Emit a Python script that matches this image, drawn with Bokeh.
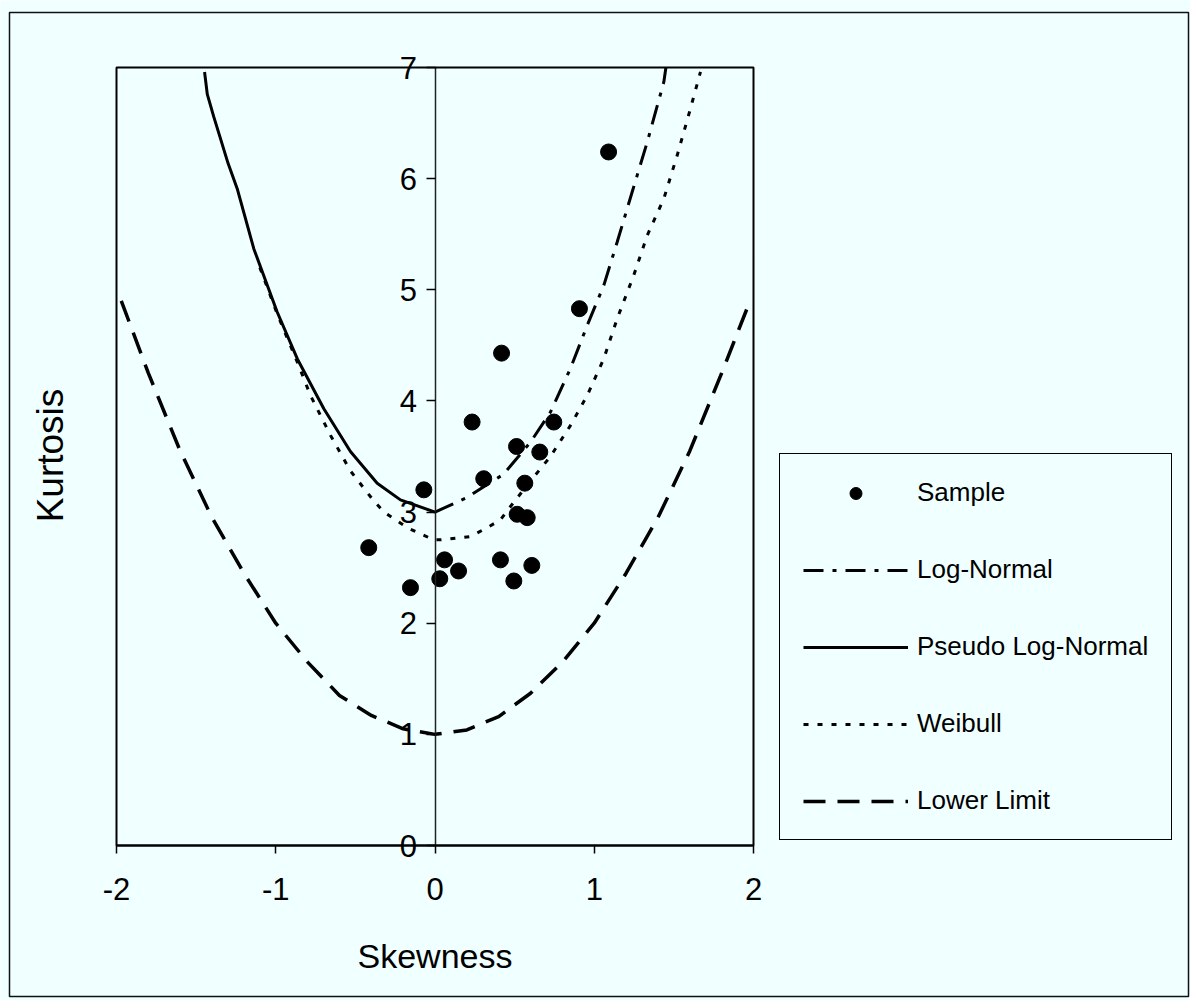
import math
from bokeh.plotting import figure
from bokeh.models import LinearAxis, FixedTicker, Legend, LegendItem, Range1d, BoxAnnotation, Label
from bokeh.embed import file_html
from bokeh.resources import INLINE

BG = "#F0FFFF"
FONT = "Liberation Sans"

# ---- data ----
sample_skew = [1.09, 0.907, 0.418, 0.233, 0.746, 0.512, 0.658, 0.306, 0.564, -0.07,
               0.516, 0.579, -0.416, 0.06, 0.148, 0.03, -0.154, 0.411, 0.608, 0.495]
sample_kurt = [6.24, 4.83, 4.43, 3.81, 3.81, 3.59, 3.54, 3.30, 3.26, 3.20,
               2.98, 2.95, 2.68, 2.57, 2.47, 2.40, 2.32, 2.57, 2.52, 2.38]

lognormal_skew = [0.0, 0.2, 0.43, 0.6, 0.725, 0.85, 0.956, 1.06, 1.144, 1.238, 1.333, 1.437, 1.45]
lognormal_kurt = [3.0, 3.13, 3.34, 3.63, 3.90, 4.29, 4.68, 5.04, 5.43, 5.88, 6.33, 6.87, 7.0]

pseudo_skew = [-1.447, -1.43, -1.39, -1.347, -1.30, -1.242, -1.19, -1.138, -0.991, -0.865,
               -0.698, -0.531, -0.363, -0.217, 0.0]
pseudo_kurt = [6.96, 6.76, 6.56, 6.36, 6.14, 5.91, 5.64, 5.37, 4.80, 4.38,
               3.93, 3.545, 3.26, 3.11, 3.0]

weibull_skew = [-1.1, -0.99, -0.865, -0.782, -0.656, -0.531, -0.384, -0.32, -0.175, -0.008,
                0.035, 0.223, 0.328, 0.411, 0.474, 0.6, 0.725, 0.851, 0.956, 1.06,
                1.144, 1.248, 1.333, 1.437, 1.521, 1.604, 1.667]
weibull_kurt = [5.2, 4.78, 4.35, 4.05, 3.69, 3.37, 3.10, 3.0, 2.86, 2.75,
                2.75, 2.78, 2.86, 2.93, 3.05, 3.28, 3.50, 3.78, 4.05, 4.38,
                4.74, 5.13, 5.49, 5.82, 6.21, 6.63, 6.96]

lower_skew = [-1.97, -1.8, -1.6, -1.4, -1.2, -1.0, -0.8, -0.6, -0.4, -0.2, 0.0,
              0.2, 0.4, 0.6, 0.8, 1.0, 1.2, 1.4, 1.6, 1.8, 1.97]
lower_kurt = [4.9, 4.25, 3.55, 2.95, 2.45, 2.0, 1.65, 1.35, 1.17, 1.05, 1.0,
              1.04, 1.16, 1.37, 1.65, 2.0, 2.45, 2.95, 3.55, 4.25, 4.87]

x_ticks = [-2, -1, 0, 1, 2]
y_ticks = [0, 1, 2, 3, 4, 5, 6, 7]
x_lim = (-2, 2)
y_lim = (0, 7)

# ---- layout: the frame fills the whole figure; the plot box is drawn at the data limits ----
W, H = 1190, 1000
box_left, box_right, box_top, box_bottom = 116, 753, 67, 845   # pixel placement of the plot box
xs = (box_right - box_left) / (x_lim[1] - x_lim[0])
ys = (box_bottom - box_top) / (y_lim[1] - y_lim[0])
x0 = x_lim[0] - box_left / xs
y1 = y_lim[1] + box_top / ys
x_range = Range1d(x0, x_lim[1] + (W - box_right) / xs)
y_range = Range1d(y_lim[0] - (H - box_bottom) / ys, y1)


def px_x(px):
    return x0 + px / xs


def px_y(py):
    return y1 - py / ys


p = figure(x_range=x_range, y_range=y_range, width=W, height=H,
           min_border_left=0, min_border_right=0, min_border_top=0, min_border_bottom=0,
           output_backend="svg", toolbar_location=None,
           x_axis_location=None, y_axis_location=None,
           background_fill_color=BG, border_fill_color=BG)
p.xgrid.visible = False
p.ygrid.visible = False
p.outline_line_color = None

# outer chart-area border
p.add_layout(BoxAnnotation(left=px_x(9), right=px_x(1188), top=px_y(12), bottom=px_y(996),
                           fill_color=None, line_color="#111111", line_alpha=1.0, line_width=1.5))
# plot-area border
p.add_layout(BoxAnnotation(left=x_lim[0], right=x_lim[1], bottom=y_lim[0], top=y_lim[1],
                           fill_color=None, line_color="black", line_alpha=1.0, line_width=2))

xa = LinearAxis(fixed_location=y_lim[0], bounds=x_lim, ticker=FixedTicker(ticks=x_ticks))
xa.major_label_overrides = {t: str(t) for t in x_ticks}
xa.minor_tick_line_color = None
xa.major_tick_out = 8
xa.major_tick_in = 0
xa.major_tick_line_width = 1.5
xa.axis_line_width = 2
xa.major_label_standoff = 24
xa.major_label_text_font = FONT
xa.major_label_text_font_size = "31px"
xa.major_label_text_color = "black"
p.add_layout(xa, "below")

ya = LinearAxis(fixed_location=0, bounds=y_lim, ticker=FixedTicker(ticks=y_ticks))
ya.major_label_overrides = {t: str(t) for t in y_ticks}
ya.minor_tick_line_color = None
ya.major_tick_out = 9
ya.major_tick_in = 0
ya.major_tick_line_width = 1.5
ya.axis_line_width = 1.5
ya.axis_line_color = "#222222"
ya.major_label_standoff = 9
ya.major_label_text_font = FONT
ya.major_label_text_font_size = "31px"
ya.major_label_text_color = "black"
p.add_layout(ya, "left")

p.add_layout(Label(x=0, y=px_y(955), text="Skewness",
                   text_font=FONT, text_font_size="34px", text_color="black",
                   text_align="center", text_baseline="middle"))
p.add_layout(Label(x=px_x(50), y=px_y(455), text="Kurtosis",
                   angle=math.pi / 2, text_font=FONT, text_font_size="37px", text_color="black",
                   text_align="center", text_baseline="middle"))

r_lower = p.line(lower_skew, lower_kurt, line_color="black", line_width=3.5, line_dash="22 12")
r_weib = p.line(weibull_skew, weibull_kurt, line_color="black", line_width=3, line_dash="5 9")
r_pseudo = p.line(pseudo_skew, pseudo_kurt, line_color="black", line_width=3)
r_logn = p.line(lognormal_skew, lognormal_kurt, line_color="black", line_width=3, line_dash="20 9 4 9")
r_samp = p.scatter(sample_skew, sample_kurt, size=16, fill_color="black", line_color="black")

legend = Legend(items=[
    LegendItem(label="Sample", renderers=[r_samp]),
    LegendItem(label="Log-Normal", renderers=[r_logn]),
    LegendItem(label="Pseudo Log-Normal", renderers=[r_pseudo]),
    LegendItem(label="Weibull", renderers=[r_weib]),
    LegendItem(label="Lower Limit", renderers=[r_lower]),
], location=(779, H - 840))
legend.margin = 0
legend.padding = 23
legend.spacing = 46
legend.glyph_width = 105
legend.glyph_height = 30
legend.label_height = 30
legend.label_standoff = 9
legend.label_text_font = FONT
legend.label_text_font_size = "26px"
legend.label_text_color = "black"
legend.border_line_color = "black"
legend.border_line_alpha = 1.0
legend.border_line_width = 1.5
legend.background_fill_color = BG
legend.background_fill_alpha = 1.0
p.add_layout(legend)

open("out.html", "w").write(file_html(p, INLINE))
